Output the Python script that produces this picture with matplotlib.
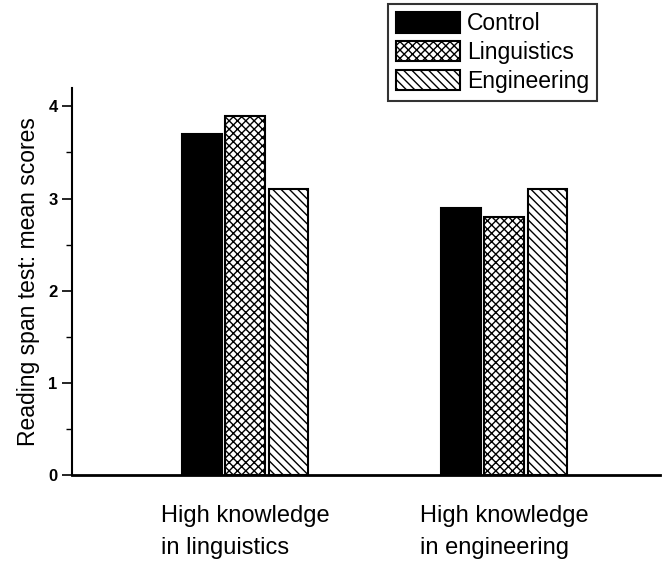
import numpy as np
import matplotlib.pyplot as plt

plt.rcParams['font.family'] = ['Liberation Sans', 'DejaVu Sans']
plt.rcParams['hatch.linewidth'] = 1.0

groups = ['High knowledge\nin linguistics', 'High knowledge\nin engineering']
series = ['Control', 'Linguistics', 'Engineering']
control = [3.7, 2.9]
linguistics = [3.9, 2.8]
engineering = [3.1, 3.1]

fig = plt.figure(figsize=(6.68, 5.64), dpi=100)
ax = fig.add_axes([0.108, 0.158, 0.880, 0.686])

x = np.arange(len(groups))
w = 0.152
step = 0.167
styles = [
    dict(color='black', edgecolor='black', hatch=None),
    dict(color='white', edgecolor='black', hatch='xxxx'),
    dict(color='white', edgecolor='black', hatch='\\\\\\\\'),
]
handles = []
for i, (vals, st) in enumerate(zip([control, linguistics, engineering], styles)):
    b = ax.bar(x + (i - 1) * step, vals, w, label=series[i],
               facecolor=st['color'], edgecolor=st['edgecolor'],
               hatch=st['hatch'], linewidth=1.5)
    handles.append(b)

ax.set_xlim(-0.668, 1.602)
ax.set_ylim(0, 4.2)
ax.set_yticks([0, 1, 2, 3, 4])
ax.set_yticks([0.5, 1.5, 2.5, 3.5], minor=True)
ax.set_xticks(x)
ax.set_xticklabels(groups, fontsize=17, linespacing=1.55, multialignment='left')
ax.tick_params(axis='x', length=0, pad=22)
ax.tick_params(axis='y', which='major', length=7, width=1.2, labelsize=12)
ax.tick_params(axis='y', which='minor', length=4, width=1.0)
for lab in ax.get_yticklabels():
    lab.set_fontweight('bold')

ax.spines['top'].set_visible(False)
ax.spines['right'].set_visible(False)
ax.spines['left'].set_linewidth(1.5)
ax.spines['bottom'].set_linewidth(2)

ax.set_ylabel('Reading span test: mean scores', fontsize=16.5, labelpad=6)

leg = ax.legend(handles=handles, loc='upper left',
                bbox_to_anchor=(388 / 668, 1 - 4 / 564),
                bbox_transform=fig.transFigure, borderaxespad=0,
                fontsize=16.5, frameon=True, fancybox=False, edgecolor='black',
                handlelength=2.8, handleheight=1.0, handletextpad=0.3,
                borderpad=0.35, labelspacing=0.25)
leg.get_frame().set_linewidth(1.5)

fig.savefig('out.png', dpi=100)
